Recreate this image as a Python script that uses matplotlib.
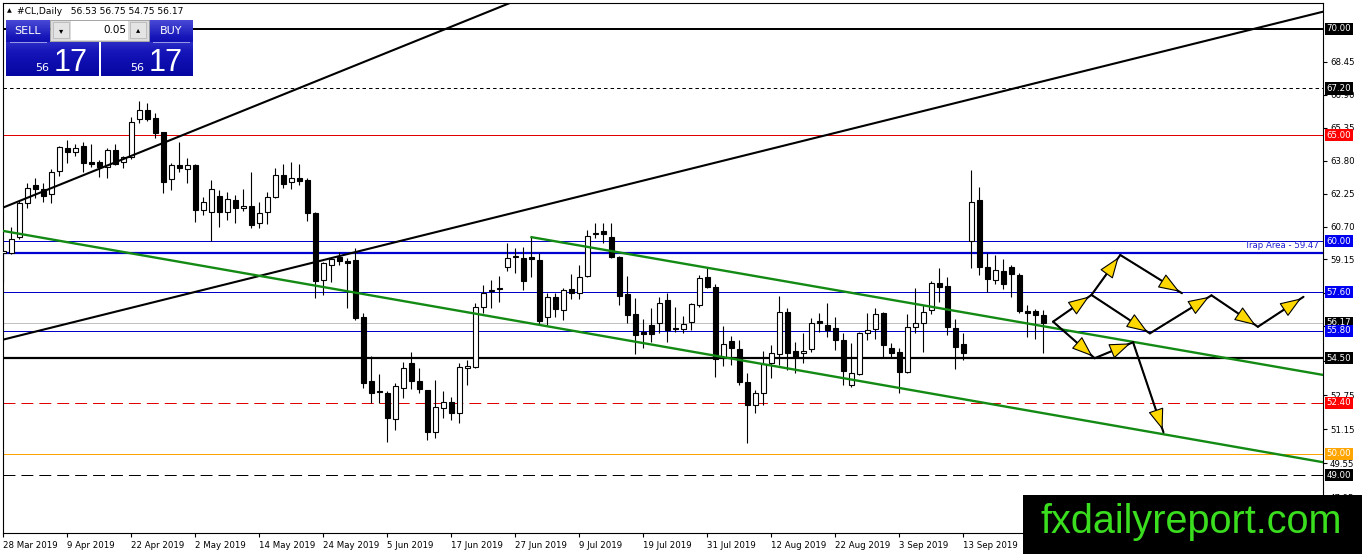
import numpy as np
import matplotlib
matplotlib.use("Agg")
import matplotlib.pyplot as plt
from matplotlib import transforms
from matplotlib.colors import LinearSegmentedColormap

plt.rcParams['font.family'] = ['DejaVu Sans']
plt.rcParams['lines.scale_dashes'] = False

# daily candles of #CL, one value per bar
opens = [59.45, 59.45, 60.2, 61.8, 62.65, 62.47, 62.25, 63.3, 64.4, 64.2,
         64.5, 63.75, 63.75, 63.5, 64.3, 63.75, 63.97, 65.76, 66.19, 65.8,
         65.15, 62.94, 63.6, 63.42, 63.6, 61.5, 61.38, 62.14, 61.38, 61.95,
         61.57, 61.67, 60.87, 61.38, 62.1, 63.13, 62.8, 63.0, 62.9, 61.34,
         58.18, 58.89, 59.27, 59.08, 59.12, 56.44, 53.43, 52.95, 52.86, 51.64,
         53.1, 54.27, 53.43, 53.0, 51.03, 52.16, 52.44, 51.92, 54.05, 54.09,
         56.9, 57.66, 57.76, 58.8, 59.25, 59.22, 59.27, 59.13, 56.44, 57.38,
         56.77, 57.76, 57.57, 58.37, 60.35, 60.49, 60.2, 59.27, 57.52, 56.58,
         55.73, 56.06, 56.16, 57.24, 55.92, 55.88, 56.2, 57.0, 58.32, 57.85,
         54.51, 55.31, 54.93, 53.38, 52.3, 52.86, 54.27, 54.7, 56.67, 54.84,
         54.75, 54.93, 56.25, 56.06, 55.92, 55.36, 53.24, 53.76, 55.69, 55.88,
         56.63, 54.98, 54.8, 53.85, 55.97, 56.16, 56.77, 58.04, 57.9, 55.92,
         55.17, 60.02, 61.95, 58.8, 58.18, 58.6, 58.8, 58.42, 56.7, 56.72,
         56.53]
highs = [59.6, 60.68, 61.9, 62.75, 63.0, 62.75, 63.4, 64.5, 64.77, 64.6,
         64.7, 64.6, 63.85, 64.4, 64.58, 64.03, 65.86, 66.6, 66.5, 66.05,
         65.15, 63.7, 64.68, 63.93, 63.65, 62.1, 62.9, 62.4, 62.33, 62.2,
         62.47, 63.27, 61.85, 62.33, 63.46, 63.64, 63.74, 63.64, 62.98, 61.38,
         59.03, 59.27, 59.5, 59.22, 59.7, 56.63, 54.6, 53.76, 52.95, 53.33,
         54.32, 54.8, 54.04, 53.0, 53.47, 52.95, 52.67, 54.27, 54.42, 57.1,
         57.95, 58.18, 58.37, 59.92, 59.7, 59.73, 60.2, 59.45, 57.57, 57.57,
         57.8, 58.47, 58.89, 60.54, 60.87, 60.87, 60.87, 59.31, 58.37, 57.33,
         56.35, 56.86, 57.38, 57.57, 56.91, 56.49, 57.1, 58.42, 58.8, 57.99,
         56.02, 55.54, 55.36, 53.8, 53.0, 54.84, 55.12, 57.43, 56.86, 55.26,
         55.69, 56.39, 56.63, 57.1, 56.44, 55.69, 55.22, 55.75, 56.63, 56.86,
         56.68, 55.22, 54.98, 56.58, 57.8, 57.0, 58.14, 58.75, 58.32, 56.35,
         55.69, 63.36, 62.56, 59.45, 59.36, 59.17, 58.89, 58.51, 57.0, 56.82,
         56.75]
lows = [58.1, 59.4, 60.1, 61.55, 62.05, 61.85, 61.8, 63.1, 63.7, 64.0,
        63.27, 63.5, 63.03, 62.98, 63.6, 63.45, 63.9, 65.57, 65.67, 64.87,
        62.28, 62.42, 63.27, 62.75, 60.9, 61.25, 60.0, 60.68, 61.0, 60.87,
        61.43, 60.63, 60.63, 60.8, 62.05, 62.5, 62.47, 62.66, 60.96, 57.34,
        57.48, 58.09, 58.9, 56.86, 56.3, 53.1, 52.39, 52.39, 50.56, 51.12,
        52.63, 53.05, 52.86, 50.65, 50.74, 51.68, 51.6, 51.45, 53.24, 54.04,
        56.63, 56.86, 57.15, 58.6, 58.5, 57.7, 58.32, 56.06, 56.06, 56.44,
        56.3, 57.29, 57.29, 58.32, 60.16, 59.92, 59.22, 57.0, 56.16, 54.7,
        54.98, 55.26, 55.69, 55.26, 55.73, 55.69, 55.83, 56.91, 57.8, 53.62,
        54.13, 54.18, 53.24, 50.5, 51.92, 52.3, 53.57, 54.18, 53.95, 53.8,
        54.27, 54.8, 55.73, 55.5, 54.89, 53.24, 53.15, 53.7, 55.36, 55.4,
        54.56, 54.56, 52.86, 53.8, 55.69, 54.8, 56.58, 57.15, 55.59, 53.99,
        54.42, 58.75, 58.42, 57.62, 57.99, 57.76, 57.38, 56.63, 55.5, 55.4,
        54.75]
closes = [59.55, 60.12, 61.8, 62.5, 62.47, 62.14, 63.27, 64.44, 64.2, 64.4,
          63.7, 63.65, 63.5, 64.3, 63.65, 63.97, 65.62, 66.19, 65.76, 65.1,
          62.8, 63.6, 63.45, 63.6, 61.5, 61.85, 62.47, 61.38, 62.0, 61.57,
          61.67, 60.77, 61.33, 62.1, 63.13, 62.7, 63.0, 62.85, 61.34, 58.14,
          58.98, 59.17, 59.08, 59.0, 56.4, 53.33, 52.86, 52.9, 51.68, 53.2,
          54.04, 53.43, 53.05, 51.03, 52.2, 52.44, 51.92, 54.09, 54.13, 56.91,
          57.57, 57.71, 57.8, 59.22, 59.27, 58.14, 59.17, 56.25, 57.38, 56.82,
          57.71, 57.57, 58.32, 60.26, 60.4, 60.35, 59.27, 57.43, 56.53, 55.59,
          55.64, 55.64, 57.1, 55.83, 55.88, 56.11, 57.05, 58.28, 57.85, 54.47,
          55.17, 54.98, 53.38, 52.3, 52.86, 54.23, 54.75, 56.67, 54.75, 54.56,
          54.84, 56.16, 56.16, 55.83, 55.36, 53.9, 53.8, 55.69, 55.83, 56.58,
          55.12, 54.75, 53.85, 55.97, 56.16, 56.67, 58.04, 57.85, 55.97, 55.03,
          54.75, 61.86, 58.8, 58.23, 58.65, 57.99, 58.47, 56.72, 56.63, 56.53,
          56.17]

date_bars = [0, 8, 16, 24, 32, 40, 48, 56, 64, 72, 80, 88, 96, 104, 112, 120]
date_labels = ["28 Mar 2019", "9 Apr 2019", "22 Apr 2019", "2 May 2019",
               "14 May 2019", "24 May 2019", "5 Jun 2019", "17 Jun 2019",
               "27 Jun 2019", "9 Jul 2019", "19 Jul 2019", "31 Jul 2019",
               "12 Aug 2019", "22 Aug 2019", "3 Sep 2019", "13 Sep 2019"]

price_ticks = [68.45, 66.90, 65.35, 63.80, 62.25, 60.70, 59.15, 57.55,
               56.00, 54.35, 52.75, 51.15, 49.55, 47.95]
# these sit under the level tags, so no text is shown for them
hidden_ticks = [57.55, 56.00, 54.35]

# horizontal objects
level_prices = [70.00, 67.20, 65.00, 60.00, 59.47, 57.60, 56.17, 55.80,
                54.50, 52.40, 50.00, 49.00]
level_colors = ['black', 'black', '#e00000', '#0000c8', '#0000d0', '#0000c8',
                '#c0c0c0', '#0000c8', 'black', '#e00000', '#ffa500', 'black']
level_widths = [2.0, 1.0, 1.0, 1.0, 2.2, 1.0, 1.0, 1.0, 2.2, 1.0, 1.0, 1.0]
level_dashes = [None, (2.5, 2.2), None, None, None, None, None, None,
                None, (8.6, 4.3), None, (8.6, 4.3)]

tag_prices = [70.00, 67.20, 65.00, 60.00, 57.60, 56.17, 55.80, 54.50,
              52.40, 50.00, 49.00]
tag_colors = ['black', 'black', '#ff0000', '#0000f0', '#0000f0', 'black',
              '#0000f0', 'black', '#ff0000', '#ffa500', 'black']

# trend lines: bar, price -> bar, price
trend_lines = {
    'black_1': ((0, 61.6), (64, 71.33), 'black', 1.5),
    'black_2': ((0, 55.38), (165, 70.82), 'black', 1.5),
    'green_1': ((0, 60.49), (165, 49.6), '#138a13', 1.7),
    'green_2': ((66, 60.2), (165, 53.71), '#138a13', 1.7),
}

# projected path (arrows)
path_bar = {'A': 131.2, 'B': 136.0, 'C': 139.6, 'D': 147.3, 'E': 143.3,
            'F': 151.0, 'G': 156.8, 'H': 162.5, 'I': 136.4, 'J': 141.2,
            'K': 145.0}
path_price = {'A': 56.22, 'B': 57.48, 'C': 59.36, 'D': 57.56, 'E': 55.67,
              'F': 57.46, 'G': 55.98, 'H': 57.39, 'I': 54.50, 'J': 55.25,
              'K': 51.01}
path_legs = [('A', 'B'), ('B', 'C'), ('C', 'D'), ('B', 'E'), ('E', 'F'),
             ('F', 'G'), ('G', 'H'), ('A', 'I'), ('I', 'J'), ('J', 'K')]

W, H = 1362, 554
fig = plt.figure(figsize=(W / 100, H / 100), dpi=100)
ax = fig.add_axes([3 / W, 21 / H, 1320 / W, 530 / H])
ax.set_xlim(-0.0625, 164.94)
ax.set_ylim(46.271, 71.224)

for p, col, lw, d in zip(level_prices, level_colors, level_widths, level_dashes):
    ln = ax.axhline(p, color=col, lw=lw * 0.72, zorder=1)
    if d is not None:
        ln.set_dashes(d)

o = np.array(opens)
hi = np.array(highs)
lo = np.array(lows)
c = np.array(closes)
bars = np.arange(len(o))
up = c >= o
ax.vlines(bars, lo, hi, color='black', lw=0.8, zorder=3)
b_lo = np.minimum(o, c)
b_h = np.maximum(np.abs(c - o), 0.04)
ax.bar(bars[up], b_h[up], 0.62, bottom=b_lo[up], facecolor='white',
       edgecolor='black', lw=0.8, zorder=4)
ax.bar(bars[~up], b_h[~up], 0.62, bottom=b_lo[~up], facecolor='black',
       edgecolor='black', lw=0.8, zorder=4)

for (p0, p1, col, lw) in trend_lines.values():
    ax.plot([p0[0], p1[0]], [p0[1], p1[1]], color=col, lw=lw, zorder=5)

for a, b in path_legs:
    x0, y0 = path_bar[a], path_price[a]
    x1, y1 = path_bar[b], path_price[b]
    ax.plot([x0, x1], [y0, y1], color='black', lw=1.5, zorder=6,
            solid_capstyle='round')
    ax.annotate('', xy=(x1, y1), xytext=(x0, y0),
                arrowprops=dict(arrowstyle='-|>,head_length=1.35,head_width=0.5',
                                fc='#ffd800', ec='black', lw=0.8,
                                shrinkA=0, shrinkB=2), zorder=7)

blend = transforms.blended_transform_factory(ax.transAxes, ax.transData)
ax.text(0.997, 59.47 + 0.12, 'Trap Area - 59.47', transform=blend,
        ha='right', va='bottom', fontsize=6.2, color='#2020d0', zorder=8)

# axes cosmetics
for s in ax.spines.values():
    s.set_color('black')
    s.set_linewidth(0.8)
ax.yaxis.tick_right()
ax.set_yticks(price_ticks)
ax.set_yticklabels(["" if v in hidden_ticks else f"{v:.2f}" for v in price_ticks])
ax.tick_params(axis='y', direction='out', length=3, width=0.8, pad=2,
               labelsize=6.2, colors='black')
ax.set_xticks(date_bars)
ax.set_xticklabels(date_labels)
ax.tick_params(axis='x', direction='out', length=3, width=0.8, pad=2.5,
               labelsize=6.2)
for lab in ax.get_xticklabels():
    lab.set_horizontalalignment('left')

for p, col in zip(tag_prices, tag_colors):
    ax.annotate(f"{p:.2f}", xy=(1, p), xycoords=blend, xytext=(2.6, 0),
                textcoords='offset points', ha='left', va='center',
                fontsize=6.2, color='white', annotation_clip=False,
                bbox=dict(boxstyle='square,pad=0.18', fc=col, ec='none'),
                zorder=9)

# overlay in pixel coordinates: header, trade panel, watermark
ov = fig.add_axes([0, 0, 1, 1], zorder=10)
ov.patch.set_alpha(0)
ov.axis('off')

ov.text(7, 11, '\u25b2', fontsize=4.5, va='center', ha='left')
ov.text(17, 11, '#CL,Daily   56.53 56.75 54.75 56.17', fontsize=6.6,
        va='center', ha='left')

blue = LinearSegmentedColormap.from_list('panel', ['#4a4ad6', '#1414b8', '#0606a2'])
grad = np.linspace(0, 1, 64).reshape(-1, 1)
for (x0, x1, y0, y1) in [(6, 50, 20, 42), (6, 99, 42, 76),
                         (149, 193, 20, 42), (101, 193, 42, 76)]:
    ov.imshow(grad, cmap=blue, extent=(x0, x1, y1, y0), aspect='auto',
              vmin=-(y0 - 20) / 56, vmax=1 + (76 - y1) / 56 if y1 < 76 else 1)
ov.plot([10, 46], [42, 42], color='#9c9cec', lw=0.7)
ov.plot([153, 189], [42, 42], color='#9c9cec', lw=0.7)
ov.add_patch(plt.Rectangle((50, 20), 99, 21, fc='#dcdcdc', ec='#9a9a9a', lw=0.6))
ov.add_patch(plt.Rectangle((71, 21), 57, 19, fc='white', ec='none'))
ov.add_patch(plt.Rectangle((53, 22), 16, 16, fc='#e4e4e4', ec='#b0b0b0', lw=0.5))
ov.add_patch(plt.Rectangle((130, 22), 16, 16, fc='#e4e4e4', ec='#b0b0b0', lw=0.5))
ov.text(61, 30.5, '\u25be', fontsize=6, ha='center', va='center')
ov.text(138, 29.5, '\u25b4', fontsize=6, ha='center', va='center')
ov.text(126, 30, '0.05', fontsize=7.5, ha='right', va='center')
ov.text(28, 31, 'SELL', fontsize=8, color='white', ha='center', va='center')
ov.text(171, 31, 'BUY', fontsize=8, color='white', ha='center', va='center')
for xs, xb in [(42, 54), (137, 149)]:
    ov.text(xs, 71, '56', fontsize=8, color='white', ha='center', va='baseline')
    ov.text(xb, 71, '17', fontsize=22, color='white', ha='left', va='baseline',
            family='Liberation Sans')

ov.add_patch(plt.Rectangle((1023, 495), 339, 59, fc='black', ec='none'))
ov.text(1191, 533, 'fxdailyreport.com', fontsize=28.5, color='#3ade1e',
        ha='center', va='baseline', family='Liberation Sans')

ov.set_xlim(0, W)
ov.set_ylim(H, 0)

fig.savefig('out.png', dpi=100, facecolor='white')
